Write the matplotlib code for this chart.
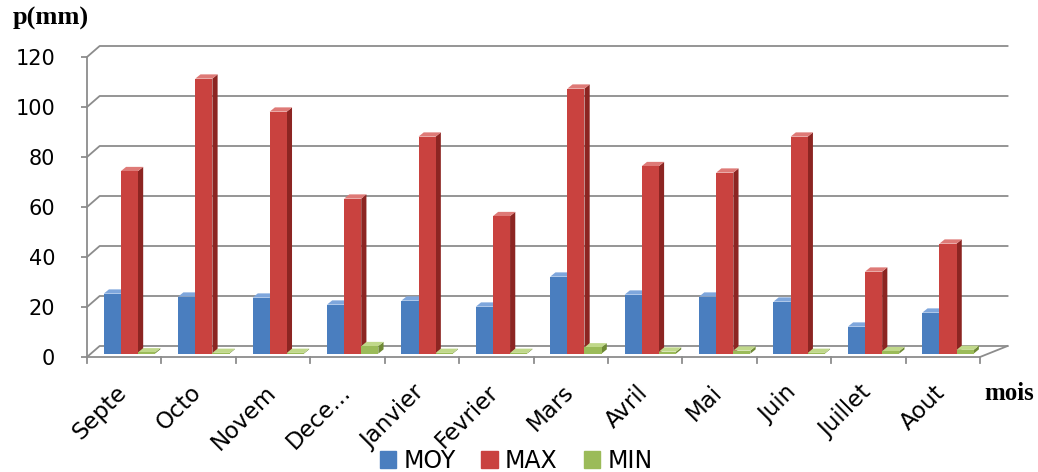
import numpy as np
import matplotlib.pyplot as plt
import matplotlib.transforms as mtransforms
from matplotlib.patches import Polygon, Patch

# Monthly precipitation (mm): mean, max and min per month
mois = ["Septe", "Octo", "Novem", "Dece...", "Janvier", "Fevrier",
        "Mars", "Avril", "Mai", "Juin", "Juillet", "Aout"]
moy = [24, 22.8, 22.4, 19.6, 21.2, 18.8, 30.8, 23.6, 22.8, 20.8, 10.8, 16.4]
pmax = [73, 110, 96.8, 62, 86.8, 55, 106, 75, 72.4, 86.8, 32.8, 44]
pmin = [0.5, 0.3, 0.3, 3, 0.3, 0.3, 2.5, 0.8, 1.2, 0.3, 1.0, 1.5]
yticks = [0, 20, 40, 60, 80, 100, 120]

colors = {"MOY": ("#4a7ebf", "#2d5a94", "#7ea6dc"),
          "MAX": ("#c9423f", "#8c2522", "#de7a77"),
          "MIN": ("#9bbb59", "#6f8a35", "#c0d88a")}

# pseudo 3D depth: back wall offset, in data units
DX, DY = 0.17, 4.4
BW = 0.23          # bar width
SX, SY = 0.07, 1.7  # bar side/top depth

fig = plt.figure(figsize=(10.38, 4.72), dpi=100)
ax = fig.add_axes([87 / 1038, 1 - 357 / 472, (980 - 87) / 1038, 300 / 472])
ax.set_xlim(-0.5, 11.5)
ax.set_ylim(0, 120)
for s in ax.spines.values():
    s.set_visible(False)

n = len(mois)
x = np.arange(n)
grid_c = "#8c8c8c"

# back wall gridlines with slanted connectors to the front axis
for v in yticks:
    ax.plot([-0.5, -0.5 + DX, 11.5 + DX + 0.2], [v, v + DY, v + DY],
            color=grid_c, lw=1.3, clip_on=False, zorder=1)

# floor and front value axis
ax.plot([-0.5, 11.5, 11.5 + DX + 0.2], [0, 0, DY],
        color=grid_c, lw=1.3, clip_on=False, zorder=1)
ax.plot([-0.5, -0.5], [0, 120], color=grid_c, lw=1.3, clip_on=False, zorder=1)
for b in np.arange(-0.5, n, 1.0):
    ax.plot([b, b], [0, -2.4], color=grid_c, lw=1.3, clip_on=False)


def bar3d(xc, val, key):
    front, side, top = colors[key]
    x0, x1 = xc - BW / 2, xc + BW / 2
    b = DY / 2 - SY / 2
    t = b + val
    ax.add_patch(Polygon([(x1, b), (x1 + SX, b + SY), (x1 + SX, t + SY), (x1, t)],
                         closed=True, fc=side, ec="none", zorder=3))
    ax.add_patch(Polygon([(x0, t), (x1, t), (x1 + SX, t + SY), (x0 + SX, t + SY)],
                         closed=True, fc=top, ec="none", zorder=3))
    ax.bar(xc, val, width=BW, bottom=b, color=front, zorder=3)


for i in range(n):
    c = i + 0.07
    bar3d(c - BW, moy[i], "MOY")
    bar3d(c, pmax[i], "MAX")
    bar3d(c + BW, pmin[i], "MIN")

ax.set_yticks(yticks)
ax.set_yticklabels([str(v) for v in yticks], fontsize=15, family="DejaVu Sans")
ax.tick_params(axis="y", length=4, color=grid_c, width=1.3, pad=19)
ax.set_xticks(x)
ax.set_xticklabels(mois, rotation=45, ha="right", va="top",
                   rotation_mode="anchor", fontsize=16.5, family="DejaVu Sans")
ax.tick_params(axis="x", length=0, pad=17)
shift = mtransforms.ScaledTranslation(-9 / 100, 0, fig.dpi_scale_trans)
for lbl in ax.get_xticklabels():
    lbl.set_transform(lbl.get_transform() + shift)

fig.text(13 / 1038, 1 - 18 / 472, "p(mm)", fontsize=19, fontweight="bold",
         family="Liberation Serif", va="center", ha="left")
fig.text(984 / 1038, 1 - 393 / 472, "mois", fontsize=18, fontweight="bold",
         family="Liberation Serif", va="center", ha="left")

handles = [Patch(color=colors[k][0], label=k) for k in ["MOY", "MAX", "MIN"]]
fig.legend(handles=handles, loc="center", bbox_to_anchor=(516 / 1038, 1 - 461 / 472),
           ncol=3, frameon=False, handlelength=0.7, handleheight=0.7,
           handletextpad=0.3, columnspacing=1.1, borderpad=0,
           prop={"family": "DejaVu Sans", "size": 17})

fig.savefig("out.png", dpi=100)
